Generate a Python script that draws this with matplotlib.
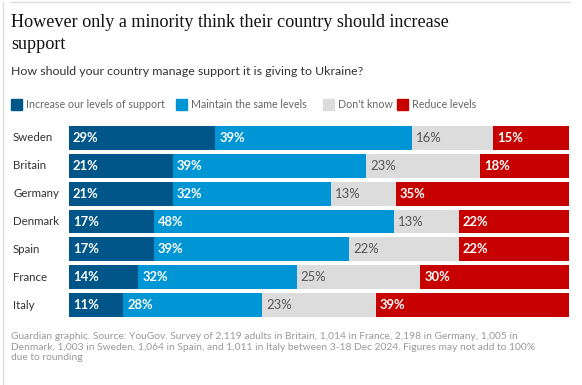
import matplotlib.pyplot as plt
from matplotlib.lines import Line2D
from matplotlib.patches import Rectangle

# Data
countries = ['Sweden', 'Britain', 'Germany', 'Denmark', 'Spain', 'France', 'Italy']
increase = [29, 21, 21, 17, 17, 14, 11]
maintain = [39, 39, 32, 48, 39, 32, 28]
dont_know = [16, 23, 13, 13, 22, 25, 23]
reduce = [15, 18, 35, 22, 22, 30, 39]

series_names = ['Increase our levels of support', 'Maintain the same levels',
                "Don't know", 'Reduce levels']
colors = ['#005689', '#0096d6', '#dcdcdc', '#c70000']
label_colors = ['white', 'white', '#555555', 'white']
label_weights = ['bold', 'bold', 'normal', 'bold']

W, H = 582, 385
fig = plt.figure(figsize=(W / 100, H / 100), dpi=100)
sans = ['Lato', 'DejaVu Sans']
serif = ['Liberation Serif', 'DejaVu Serif']


def px(x, y):
    # pixel coords (from top-left) to figure fraction
    return x / W, 1 - y / H


# frame lines
fig.add_artist(Line2D([3 / W, 3 / W], [0, 1 - 2 / H], color='#dcdcdc', lw=1))
fig.add_artist(Line2D([11 / W, 570 / W], [1 - 1.5 / H, 1 - 1.5 / H], color='#dcdcdc', lw=1))

# title and subtitle
fig.text(*px(11, 27), 'However only a minority think their country should increase',
         family=serif, fontsize=13.1, color='#121212', va='baseline')
fig.text(*px(11, 49), 'support', family=serif, fontsize=13.1, color='#121212', va='baseline')
fig.text(*px(11, 75), 'How should your country manage support it is giving to Ukraine?',
         family=sans, fontsize=8.9, color='#333333', va='baseline')

# legend
leg_x = [11, 176, 323, 397]
for lx, name, c in zip(leg_x, series_names, colors):
    fig.add_artist(Rectangle(px(lx, 110), 11 / W, 11 / H, color=c, transform=fig.transFigure))
    fig.text(*px(lx + 15, 108), name, family=sans, fontsize=7.7, color='#666666',
             va='baseline')

# bars
ax = fig.add_axes([69 / W, 1 - 319 / H, 500 / W, 195 / H])
data = [increase, maintain, dont_know, reduce]
ypos = list(range(len(countries)))
for i in ypos:
    total = sum(d[i] for d in data)
    left = 0
    for s, d in enumerate(data):
        w = d[i] / total * 100
        ax.barh(i, w, left=left, height=0.86, color=colors[s], lw=0)
        ax.text(left + 0.8, i, f'{d[i]}%', va='center', ha='left', family=sans,
                fontsize=9.4, color=label_colors[s], fontweight=label_weights[s])
        left += w
ax.set_xlim(0, 100)
ax.set_ylim(len(countries) - 0.5, -0.5)
ax.axis('off')

for i, c in enumerate(countries):
    ax.text(-56 / 5, i, c, ha='left', va='center', family=sans, fontsize=8.3,
            color='#333333')

# footnote
note = ('Guardian graphic. Source: YouGov. Survey of 2,119 adults in Britain, 1,014 in France, '
        '2,198 in Germany, 1,005 in\nDenmark, 1,003 in Sweden, 1,064 in Spain, and 1,011 in '
        'Italy between 3-18 Dec 2024. Figures may not add to 100%\ndue to rounding')
fig.text(*px(11, 332), note, family=sans, fontsize=7.35, color='#999999', va='top',
         linespacing=1.25)

fig.savefig('out.png', dpi=100)
